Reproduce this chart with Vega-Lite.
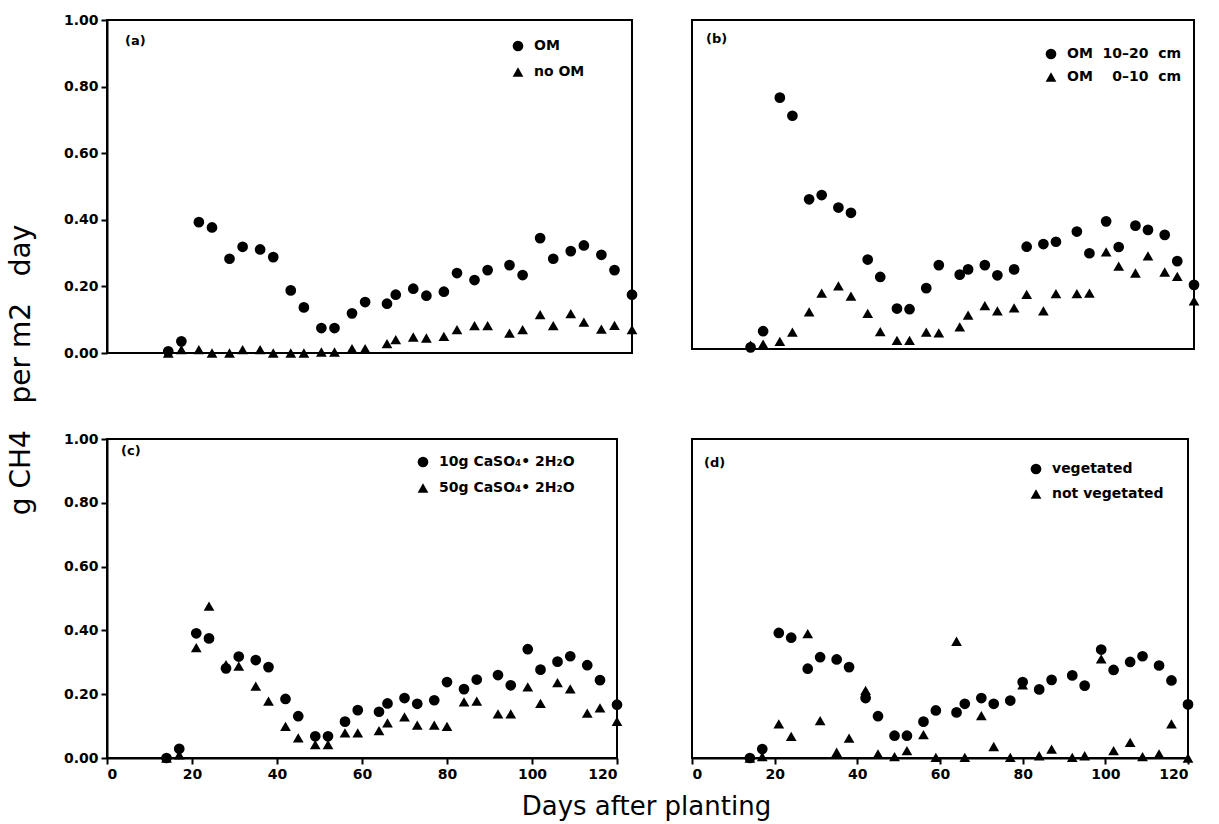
{
  "$schema": "https://vega.github.io/schema/vega-lite/v6.json",
  "padding": {"left": 8, "top": 12, "right": 5, "bottom": 5},
  "background": "white",
  "title": {"text": "g CH4\u00a0\u00a0 per m2\u00a0\u00a0 day", "orient": "left", "anchor": "middle", "fontSize": 28, "font": "DejaVu Sans", "fontWeight": "normal", "color": "black", "offset": 16, "dx": 46},
  "datasets": {
    "a": [
      {"day":14,"v":0.005,"s":"OM"},{"day":17,"v":0.035,"s":"OM"},{"day":21,"v":0.393,"s":"OM"},{"day":24,"v":0.377,"s":"OM"},{"day":28,"v":0.283,"s":"OM"},{"day":31,"v":0.319,"s":"OM"},{"day":35,"v":0.311,"s":"OM"},{"day":38,"v":0.288,"s":"OM"},{"day":42,"v":0.188,"s":"OM"},{"day":45,"v":0.137,"s":"OM"},{"day":49,"v":0.075,"s":"OM"},{"day":52,"v":0.075,"s":"OM"},{"day":56,"v":0.119,"s":"OM"},{"day":59,"v":0.153,"s":"OM"},{"day":64,"v":0.148,"s":"OM"},{"day":66,"v":0.175,"s":"OM"},{"day":70,"v":0.193,"s":"OM"},{"day":73,"v":0.172,"s":"OM"},{"day":77,"v":0.184,"s":"OM"},{"day":80,"v":0.240,"s":"OM"},{"day":84,"v":0.219,"s":"OM"},{"day":87,"v":0.249,"s":"OM"},{"day":92,"v":0.264,"s":"OM"},{"day":95,"v":0.234,"s":"OM"},{"day":99,"v":0.345,"s":"OM"},{"day":102,"v":0.283,"s":"OM"},{"day":106,"v":0.306,"s":"OM"},{"day":109,"v":0.323,"s":"OM"},{"day":113,"v":0.295,"s":"OM"},{"day":116,"v":0.249,"s":"OM"},{"day":120,"v":0.175,"s":"OM"},
      {"day":14,"v":0.0,"s":"no OM"},{"day":17,"v":0.01,"s":"no OM"},{"day":21,"v":0.01,"s":"no OM"},{"day":24,"v":0.0,"s":"no OM"},{"day":28,"v":0.0,"s":"no OM"},{"day":31,"v":0.01,"s":"no OM"},{"day":35,"v":0.01,"s":"no OM"},{"day":38,"v":0.0,"s":"no OM"},{"day":42,"v":0.0,"s":"no OM"},{"day":45,"v":0.0,"s":"no OM"},{"day":49,"v":0.003,"s":"no OM"},{"day":52,"v":0.003,"s":"no OM"},{"day":56,"v":0.013,"s":"no OM"},{"day":59,"v":0.013,"s":"no OM"},{"day":64,"v":0.028,"s":"no OM"},{"day":66,"v":0.04,"s":"no OM"},{"day":70,"v":0.048,"s":"no OM"},{"day":73,"v":0.045,"s":"no OM"},{"day":77,"v":0.05,"s":"no OM"},{"day":80,"v":0.07,"s":"no OM"},{"day":84,"v":0.082,"s":"no OM"},{"day":87,"v":0.082,"s":"no OM"},{"day":92,"v":0.06,"s":"no OM"},{"day":95,"v":0.07,"s":"no OM"},{"day":99,"v":0.115,"s":"no OM"},{"day":102,"v":0.082,"s":"no OM"},{"day":106,"v":0.118,"s":"no OM"},{"day":109,"v":0.093,"s":"no OM"},{"day":113,"v":0.072,"s":"no OM"},{"day":116,"v":0.083,"s":"no OM"},{"day":120,"v":0.07,"s":"no OM"}
    ],
    "b": [
      {"day":14,"v":0.005,"s":"OM 10–20 cm"},{"day":17,"v":0.054,"s":"OM 10–20 cm"},{"day":21,"v":0.764,"s":"OM 10–20 cm"},{"day":24,"v":0.709,"s":"OM 10–20 cm"},{"day":28,"v":0.455,"s":"OM 10–20 cm"},{"day":31,"v":0.468,"s":"OM 10–20 cm"},{"day":35,"v":0.430,"s":"OM 10–20 cm"},{"day":38,"v":0.414,"s":"OM 10–20 cm"},{"day":42,"v":0.272,"s":"OM 10–20 cm"},{"day":45,"v":0.219,"s":"OM 10–20 cm"},{"day":49,"v":0.123,"s":"OM 10–20 cm"},{"day":52,"v":0.121,"s":"OM 10–20 cm"},{"day":56,"v":0.185,"s":"OM 10–20 cm"},{"day":59,"v":0.255,"s":"OM 10–20 cm"},{"day":64,"v":0.226,"s":"OM 10–20 cm"},{"day":66,"v":0.242,"s":"OM 10–20 cm"},{"day":70,"v":0.255,"s":"OM 10–20 cm"},{"day":73,"v":0.224,"s":"OM 10–20 cm"},{"day":77,"v":0.242,"s":"OM 10–20 cm"},{"day":80,"v":0.311,"s":"OM 10–20 cm"},{"day":84,"v":0.319,"s":"OM 10–20 cm"},{"day":87,"v":0.326,"s":"OM 10–20 cm"},{"day":92,"v":0.357,"s":"OM 10–20 cm"},{"day":95,"v":0.291,"s":"OM 10–20 cm"},{"day":99,"v":0.388,"s":"OM 10–20 cm"},{"day":102,"v":0.310,"s":"OM 10–20 cm"},{"day":106,"v":0.375,"s":"OM 10–20 cm"},{"day":109,"v":0.362,"s":"OM 10–20 cm"},{"day":113,"v":0.347,"s":"OM 10–20 cm"},{"day":116,"v":0.267,"s":"OM 10–20 cm"},{"day":120,"v":0.195,"s":"OM 10–20 cm"},
      {"day":14,"v":0.012,"s":"OM 0–10 cm"},{"day":17,"v":0.015,"s":"OM 0–10 cm"},{"day":21,"v":0.023,"s":"OM 0–10 cm"},{"day":24,"v":0.051,"s":"OM 0–10 cm"},{"day":28,"v":0.113,"s":"OM 0–10 cm"},{"day":31,"v":0.170,"s":"OM 0–10 cm"},{"day":35,"v":0.192,"s":"OM 0–10 cm"},{"day":38,"v":0.161,"s":"OM 0–10 cm"},{"day":42,"v":0.108,"s":"OM 0–10 cm"},{"day":45,"v":0.053,"s":"OM 0–10 cm"},{"day":49,"v":0.026,"s":"OM 0–10 cm"},{"day":52,"v":0.026,"s":"OM 0–10 cm"},{"day":56,"v":0.051,"s":"OM 0–10 cm"},{"day":59,"v":0.049,"s":"OM 0–10 cm"},{"day":64,"v":0.067,"s":"OM 0–10 cm"},{"day":66,"v":0.103,"s":"OM 0–10 cm"},{"day":70,"v":0.132,"s":"OM 0–10 cm"},{"day":73,"v":0.116,"s":"OM 0–10 cm"},{"day":77,"v":0.125,"s":"OM 0–10 cm"},{"day":80,"v":0.166,"s":"OM 0–10 cm"},{"day":84,"v":0.116,"s":"OM 0–10 cm"},{"day":87,"v":0.168,"s":"OM 0–10 cm"},{"day":92,"v":0.168,"s":"OM 0–10 cm"},{"day":95,"v":0.170,"s":"OM 0–10 cm"},{"day":99,"v":0.295,"s":"OM 0–10 cm"},{"day":102,"v":0.252,"s":"OM 0–10 cm"},{"day":106,"v":0.231,"s":"OM 0–10 cm"},{"day":109,"v":0.283,"s":"OM 0–10 cm"},{"day":113,"v":0.234,"s":"OM 0–10 cm"},{"day":116,"v":0.221,"s":"OM 0–10 cm"},{"day":120,"v":0.146,"s":"OM 0–10 cm"}
    ],
    "c": [
      {"day":14,"v":0.0,"s":"10g CaSO₄• 2H₂O"},{"day":17,"v":0.029,"s":"10g CaSO₄• 2H₂O"},{"day":21,"v":0.391,"s":"10g CaSO₄• 2H₂O"},{"day":24,"v":0.375,"s":"10g CaSO₄• 2H₂O"},{"day":28,"v":0.281,"s":"10g CaSO₄• 2H₂O"},{"day":31,"v":0.318,"s":"10g CaSO₄• 2H₂O"},{"day":35,"v":0.307,"s":"10g CaSO₄• 2H₂O"},{"day":38,"v":0.285,"s":"10g CaSO₄• 2H₂O"},{"day":42,"v":0.185,"s":"10g CaSO₄• 2H₂O"},{"day":45,"v":0.131,"s":"10g CaSO₄• 2H₂O"},{"day":49,"v":0.068,"s":"10g CaSO₄• 2H₂O"},{"day":52,"v":0.068,"s":"10g CaSO₄• 2H₂O"},{"day":56,"v":0.114,"s":"10g CaSO₄• 2H₂O"},{"day":59,"v":0.150,"s":"10g CaSO₄• 2H₂O"},{"day":64,"v":0.145,"s":"10g CaSO₄• 2H₂O"},{"day":66,"v":0.171,"s":"10g CaSO₄• 2H₂O"},{"day":70,"v":0.188,"s":"10g CaSO₄• 2H₂O"},{"day":73,"v":0.170,"s":"10g CaSO₄• 2H₂O"},{"day":77,"v":0.181,"s":"10g CaSO₄• 2H₂O"},{"day":80,"v":0.238,"s":"10g CaSO₄• 2H₂O"},{"day":84,"v":0.216,"s":"10g CaSO₄• 2H₂O"},{"day":87,"v":0.246,"s":"10g CaSO₄• 2H₂O"},{"day":92,"v":0.260,"s":"10g CaSO₄• 2H₂O"},{"day":95,"v":0.228,"s":"10g CaSO₄• 2H₂O"},{"day":99,"v":0.341,"s":"10g CaSO₄• 2H₂O"},{"day":102,"v":0.277,"s":"10g CaSO₄• 2H₂O"},{"day":106,"v":0.302,"s":"10g CaSO₄• 2H₂O"},{"day":109,"v":0.319,"s":"10g CaSO₄• 2H₂O"},{"day":113,"v":0.291,"s":"10g CaSO₄• 2H₂O"},{"day":116,"v":0.244,"s":"10g CaSO₄• 2H₂O"},{"day":120,"v":0.167,"s":"10g CaSO₄• 2H₂O"},
      {"day":14,"v":0.0,"s":"50g CaSO₄• 2H₂O"},{"day":17,"v":0.01,"s":"50g CaSO₄• 2H₂O"},{"day":21,"v":0.346,"s":"50g CaSO₄• 2H₂O"},{"day":24,"v":0.476,"s":"50g CaSO₄• 2H₂O"},{"day":28,"v":0.293,"s":"50g CaSO₄• 2H₂O"},{"day":31,"v":0.288,"s":"50g CaSO₄• 2H₂O"},{"day":35,"v":0.225,"s":"50g CaSO₄• 2H₂O"},{"day":38,"v":0.178,"s":"50g CaSO₄• 2H₂O"},{"day":42,"v":0.099,"s":"50g CaSO₄• 2H₂O"},{"day":45,"v":0.063,"s":"50g CaSO₄• 2H₂O"},{"day":49,"v":0.042,"s":"50g CaSO₄• 2H₂O"},{"day":52,"v":0.042,"s":"50g CaSO₄• 2H₂O"},{"day":56,"v":0.079,"s":"50g CaSO₄• 2H₂O"},{"day":59,"v":0.079,"s":"50g CaSO₄• 2H₂O"},{"day":64,"v":0.086,"s":"50g CaSO₄• 2H₂O"},{"day":66,"v":0.110,"s":"50g CaSO₄• 2H₂O"},{"day":70,"v":0.129,"s":"50g CaSO₄• 2H₂O"},{"day":73,"v":0.103,"s":"50g CaSO₄• 2H₂O"},{"day":77,"v":0.103,"s":"50g CaSO₄• 2H₂O"},{"day":80,"v":0.099,"s":"50g CaSO₄• 2H₂O"},{"day":84,"v":0.176,"s":"50g CaSO₄• 2H₂O"},{"day":87,"v":0.178,"s":"50g CaSO₄• 2H₂O"},{"day":92,"v":0.138,"s":"50g CaSO₄• 2H₂O"},{"day":95,"v":0.138,"s":"50g CaSO₄• 2H₂O"},{"day":99,"v":0.223,"s":"50g CaSO₄• 2H₂O"},{"day":102,"v":0.171,"s":"50g CaSO₄• 2H₂O"},{"day":106,"v":0.236,"s":"50g CaSO₄• 2H₂O"},{"day":109,"v":0.217,"s":"50g CaSO₄• 2H₂O"},{"day":113,"v":0.141,"s":"50g CaSO₄• 2H₂O"},{"day":116,"v":0.157,"s":"50g CaSO₄• 2H₂O"},{"day":120,"v":0.115,"s":"50g CaSO₄• 2H₂O"}
    ],
    "d": [
      {"day":14,"v":0.0,"s":"vegetated"},{"day":17,"v":0.028,"s":"vegetated"},{"day":21,"v":0.392,"s":"vegetated"},{"day":24,"v":0.377,"s":"vegetated"},{"day":28,"v":0.280,"s":"vegetated"},{"day":31,"v":0.316,"s":"vegetated"},{"day":35,"v":0.309,"s":"vegetated"},{"day":38,"v":0.285,"s":"vegetated"},{"day":42,"v":0.188,"s":"vegetated"},{"day":45,"v":0.131,"s":"vegetated"},{"day":49,"v":0.070,"s":"vegetated"},{"day":52,"v":0.070,"s":"vegetated"},{"day":56,"v":0.114,"s":"vegetated"},{"day":59,"v":0.149,"s":"vegetated"},{"day":64,"v":0.143,"s":"vegetated"},{"day":66,"v":0.170,"s":"vegetated"},{"day":70,"v":0.188,"s":"vegetated"},{"day":73,"v":0.170,"s":"vegetated"},{"day":77,"v":0.180,"s":"vegetated"},{"day":80,"v":0.238,"s":"vegetated"},{"day":84,"v":0.215,"s":"vegetated"},{"day":87,"v":0.245,"s":"vegetated"},{"day":92,"v":0.259,"s":"vegetated"},{"day":95,"v":0.227,"s":"vegetated"},{"day":99,"v":0.340,"s":"vegetated"},{"day":102,"v":0.276,"s":"vegetated"},{"day":106,"v":0.301,"s":"vegetated"},{"day":109,"v":0.319,"s":"vegetated"},{"day":113,"v":0.290,"s":"vegetated"},{"day":116,"v":0.243,"s":"vegetated"},{"day":120,"v":0.168,"s":"vegetated"},
      {"day":14,"v":0.0,"s":"not vegetated"},{"day":17,"v":0.004,"s":"not vegetated"},{"day":21,"v":0.107,"s":"not vegetated"},{"day":24,"v":0.068,"s":"not vegetated"},{"day":28,"v":0.390,"s":"not vegetated"},{"day":31,"v":0.117,"s":"not vegetated"},{"day":35,"v":0.018,"s":"not vegetated"},{"day":38,"v":0.062,"s":"not vegetated"},{"day":42,"v":0.212,"s":"not vegetated"},{"day":45,"v":0.013,"s":"not vegetated"},{"day":49,"v":0.004,"s":"not vegetated"},{"day":52,"v":0.023,"s":"not vegetated"},{"day":56,"v":0.073,"s":"not vegetated"},{"day":59,"v":0.002,"s":"not vegetated"},{"day":64,"v":0.366,"s":"not vegetated"},{"day":66,"v":0.002,"s":"not vegetated"},{"day":70,"v":0.133,"s":"not vegetated"},{"day":73,"v":0.036,"s":"not vegetated"},{"day":77,"v":0.002,"s":"not vegetated"},{"day":80,"v":0.229,"s":"not vegetated"},{"day":84,"v":0.007,"s":"not vegetated"},{"day":87,"v":0.028,"s":"not vegetated"},{"day":92,"v":0.002,"s":"not vegetated"},{"day":95,"v":0.007,"s":"not vegetated"},{"day":99,"v":0.311,"s":"not vegetated"},{"day":102,"v":0.023,"s":"not vegetated"},{"day":106,"v":0.049,"s":"not vegetated"},{"day":109,"v":0.004,"s":"not vegetated"},{"day":113,"v":0.013,"s":"not vegetated"},{"day":116,"v":0.107,"s":"not vegetated"},{"day":120,"v":0.0,"s":"not vegetated"}
    ]
  },
  "vconcat": [
    {
      "title": {"text": "Days after planting", "orient": "bottom", "anchor": "middle", "fontSize": 26, "font": "DejaVu Sans", "fontWeight": "normal", "color": "black", "offset": 12, "dx": 20},
      "spacing": 70,
      "resolve": {"scale": {"shape": "independent", "x": "independent", "y": "independent"}, "legend": {"shape": "independent"}},
      "vconcat": [
        {
          "spacing": 52,
          "resolve": {"scale": {"shape": "independent", "x": "independent", "y": "independent"}, "legend": {"shape": "independent"}},
          "hconcat": [
            {
              "width": 525, "height": 333,
              "data": {"name": "a"},
              "title": {"text": "(a)", "anchor": "start", "frame": "group", "offset": -35, "dx": 18, "fontSize": 13, "fontWeight": "bold", "font": "DejaVu Sans", "color": "black"},
              "mark": {"type": "point", "filled": true, "opacity": 1, "color": "black", "size": 115},
              "encoding": {
                "x": {"field": "day", "type": "quantitative", "scale": {"domain": [0, 120], "nice": false}, "axis": null},
                "y": {"field": "v", "type": "quantitative", "scale": {"domain": [0, 1], "nice": false}, "axis": {"values": [0, 0.2, 0.4, 0.6, 0.8, 1], "format": ".2f", "title": null}},
                "shape": {"field": "s", "type": "nominal", "scale": {"domain": ["OM", "no OM"], "range": ["circle", "triangle-up"]}, "legend": {"orient": "none", "legendX": 404, "legendY": 19, "rowPadding": 12}}
              }
            },
            {
              "width": 502, "height": 329,
              "data": {"name": "b"},
              "title": {"text": "(b)", "anchor": "start", "frame": "group", "offset": -26, "dx": 14, "fontSize": 13, "fontWeight": "bold", "font": "DejaVu Sans", "color": "black"},
              "mark": {"type": "point", "filled": true, "opacity": 1, "color": "black", "size": 115},
              "encoding": {
                "x": {"field": "day", "type": "quantitative", "scale": {"domain": [0, 120], "nice": false}, "axis": null},
                "y": {"field": "v", "type": "quantitative", "scale": {"domain": [0, 1], "nice": false}, "axis": null},
                "shape": {"field": "s", "type": "nominal", "scale": {"domain": ["OM 10–20 cm", "OM 0–10 cm"], "range": ["circle", "triangle-up"]}, "legend": {"orient": "none", "legendX": 352, "legendY": 27, "rowPadding": 9, "labelExpr": "datum.label == 'OM 10–20 cm' ? 'OM\u00a0 10–20\u00a0 cm' : 'OM\u00a0 \u20070–10\u00a0 cm'"}}
              }
            }
          ]
        },
        {
          "spacing": 66,
          "resolve": {"scale": {"shape": "independent", "x": "independent", "y": "independent"}, "legend": {"shape": "independent"}},
          "hconcat": [
            {
              "width": 510, "height": 319,
              "data": {"name": "c"},
              "title": {"text": "(c)", "anchor": "start", "frame": "group", "offset": -26, "dx": 14, "fontSize": 13, "fontWeight": "bold", "font": "DejaVu Sans", "color": "black"},
              "mark": {"type": "point", "filled": true, "opacity": 1, "color": "black", "size": 115},
              "encoding": {
                "x": {"field": "day", "type": "quantitative", "scale": {"domain": [0, 120], "nice": false}, "axis": {"values": [0, 20, 40, 60, 80, 100, 120], "title": null}},
                "y": {"field": "v", "type": "quantitative", "scale": {"domain": [0, 1], "nice": false}, "axis": {"values": [0, 0.2, 0.4, 0.6, 0.8, 1], "format": ".2f", "title": "\u00a0", "titleFontSize": 8, "titlePadding": 2}},
                "shape": {"field": "s", "type": "nominal", "scale": {"domain": ["10g CaSO₄• 2H₂O", "50g CaSO₄• 2H₂O"], "range": ["circle", "triangle-up"]}, "legend": {"orient": "none", "legendX": 309, "legendY": 16, "rowPadding": 12}}
              }
            },
            {
              "width": 496, "height": 319,
              "data": {"name": "d"},
              "title": {"text": "(d)", "anchor": "start", "frame": "group", "offset": -31, "dx": 12, "fontSize": 13, "fontWeight": "bold", "font": "DejaVu Sans", "color": "black"},
              "mark": {"type": "point", "filled": true, "opacity": 1, "color": "black", "size": 115},
              "encoding": {
                "x": {"field": "day", "type": "quantitative", "scale": {"domain": [0, 120], "nice": false}, "axis": {"values": [0, 20, 40, 60, 80, 100, 120], "title": null}},
                "y": {"field": "v", "type": "quantitative", "scale": {"domain": [0, 1], "nice": false}, "axis": null},
                "shape": {"field": "s", "type": "nominal", "scale": {"domain": ["vegetated", "not vegetated"], "range": ["circle", "triangle-up"]}, "legend": {"orient": "none", "legendX": 337, "legendY": 23, "rowPadding": 11}}
              }
            }
          ]
        }
      ]
    }
  ],
  "resolve": {"scale": {"shape": "independent", "x": "independent", "y": "independent"}, "legend": {"shape": "independent"}},
  "config": {
    "font": "DejaVu Sans",
    "view": {"stroke": "black", "strokeWidth": 2},
    "axis": {"grid": false, "domainColor": "black", "domainWidth": 2, "tickColor": "black", "tickWidth": 2, "tickSize": 6, "labelFont": "DejaVu Sans", "labelFontWeight": "bold", "labelFontSize": 14, "labelColor": "black", "labelPadding": 3, "titleColor": "black"},
    "legend": {"title": null, "symbolSize": 115, "symbolFillColor": "black", "symbolStrokeWidth": 0, "labelFont": "DejaVu Sans", "labelFontWeight": "bold", "labelFontSize": 14, "labelColor": "black", "labelOffset": 9, "padding": 0}
  }
}
